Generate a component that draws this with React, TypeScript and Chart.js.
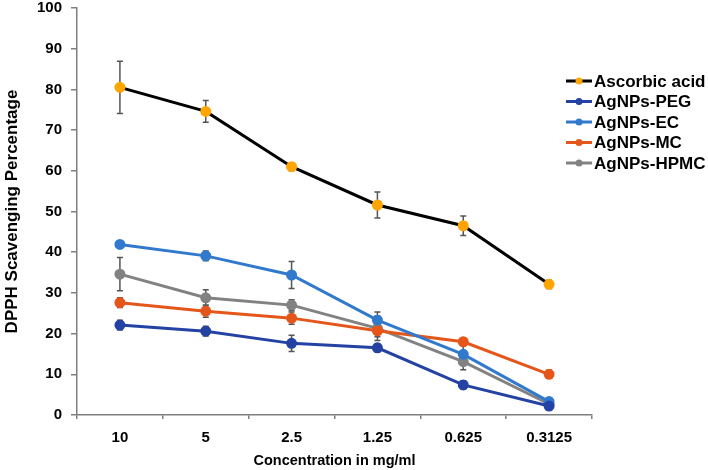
import React, { useEffect, useRef } from "react";
import { Chart, registerables } from "chart.js";

Chart.register(...registerables);

const categories = ["10", "5", "2.5", "1.25", "0.625", "0.3125"];
const seriesNames = ["Ascorbic acid", "AgNPs-PEG", "AgNPs-EC", "AgNPs-MC", "AgNPs-HPMC"];
const ascorbic = [80.5, 74.6, 61.0, 51.6, 46.5, 32.1];
const ascorbicErr = [6.4, 2.7, 1.0, 3.2, 2.4, 1.0];
const peg = [22.1, 20.6, 17.6, 16.5, 7.4, 2.2];
const pegErr = [1.2, 1.2, 2.0, 1.0, 1.0, 0.5];
const ec = [41.9, 39.1, 34.4, 23.3, 14.9, 3.3];
const ecErr = [0.8, 1.2, 3.3, 2.0, 2.5, 0.5];
const mc = [27.6, 25.5, 23.8, 20.7, 18.0, 10.0];
const mcErr = [1.2, 1.5, 1.5, 1.5, 0.5, 1.0];
const hpmc = [34.6, 28.8, 27.0, 21.3, 13.1, 2.7];
const hpmcErr = [4.1, 2.0, 1.3, 3.0, 2.0, 0.5];
const yTicks = [0, 10, 20, 30, 40, 50, 60, 70, 80, 90, 100];

const lineColors = ["#000000", "#2342A3", "#3179CC", "#E5561A", "#828282"];
const pointColors = ["#FFA500", "#2342A3", "#3179CC", "#E5561A", "#828282"];
const values = [ascorbic, peg, ec, mc, hpmc];
const errors = [ascorbicErr, pegErr, ecErr, mcErr, hpmcErr];

const FONT = "'Liberation Sans', Arial, sans-serif";

const errorBarPlugin = {
  id: "errorBars",
  beforeDatasetsDraw(chart: any) {
    const ctx = chart.ctx;
    const x = chart.scales.x;
    const y = chart.scales.y;
    ctx.save();
    ctx.strokeStyle = "#555555";
    ctx.lineWidth = 1.5;
    chart.data.datasets.forEach((ds: any) => {
      const errs = ds.errors as number[];
      ds.data.forEach((v: number, i: number) => {
        const px = x.getPixelForValue(i);
        const top = y.getPixelForValue(v + errs[i]);
        const bot = y.getPixelForValue(v - errs[i]);
        ctx.beginPath();
        ctx.moveTo(px, top);
        ctx.lineTo(px, bot);
        ctx.moveTo(px - 3, top);
        ctx.lineTo(px + 3, top);
        ctx.moveTo(px - 3, bot);
        ctx.lineTo(px + 3, bot);
        ctx.stroke();
      });
    });
    ctx.restore();
  },
};

const legendPlugin = {
  id: "customLegend",
  afterDraw(chart: any) {
    const ctx = chart.ctx;
    const right = chart.chartArea.right;
    const x0 = right - 26;
    const startY = 81;
    const step = 20.5;
    ctx.save();
    chart.data.datasets.forEach((ds: any, i: number) => {
      const cy = startY + i * step;
      ctx.strokeStyle = ds.borderColor;
      ctx.lineWidth = 3;
      ctx.beginPath();
      ctx.moveTo(x0, cy);
      ctx.lineTo(x0 + 26, cy);
      ctx.stroke();
      ctx.fillStyle = ds.pointBackgroundColor;
      ctx.beginPath();
      ctx.arc(x0 + 13, cy, 3.5, 0, Math.PI * 2);
      ctx.fill();
      ctx.fillStyle = "#000";
      ctx.font = `bold 17px ${FONT}`;
      ctx.textBaseline = "middle";
      ctx.textAlign = "left";
      ctx.fillText(ds.label, x0 + 28, cy + 1);
    });
    ctx.restore();
  },
};

export default function App() {
  const ref = useRef<HTMLCanvasElement>(null);
  useEffect(() => {
    document.body.style.margin = "0";
    const datasets = seriesNames.map((name, i) => ({
      label: name,
      data: values[i],
      errors: errors[i],
      borderColor: lineColors[i],
      backgroundColor: pointColors[i],
      pointBackgroundColor: pointColors[i],
      pointBorderColor: pointColors[i],
      pointRadius: 4,
      borderWidth: 3,
      tension: 0,
    }));
    const chart = new Chart(ref.current as HTMLCanvasElement, {
      type: "line",
      data: { labels: categories, datasets: datasets as any },
      options: {
        animation: false,
        responsive: false,
        layout: { padding: { left: 0, right: 116, top: 8, bottom: 0 } },
        plugins: { legend: { display: false }, tooltip: { enabled: false } },
        scales: {
          x: {
            offset: true,
            grid: {
              offset: true,
              drawOnChartArea: false,
              drawTicks: true,
              tickLength: 4,
              color: "#7f7f7f",
              lineWidth: 1.5,
            },
            border: { color: "#7f7f7f", width: 1.5 },
            ticks: {
              color: "#000",
              padding: 10,
              font: { family: FONT, weight: "bold", size: 15 },
            },
            title: {
              display: true,
              text: "Concentration in mg/ml",
              color: "#000",
              padding: { top: 0, bottom: 0 },
              font: { family: FONT, weight: "bold", size: 14.5 },
            },
            afterFit: (s: any) => {
              s.height = 55;
              s.paddingLeft = 0;
              s.paddingRight = 0;
            },
          },
          y: {
            min: 0,
            max: 100,
            afterBuildTicks: (s: any) => {
              s.ticks = yTicks.map((v) => ({ value: v }));
            },
            grid: {
              drawOnChartArea: false,
              drawTicks: true,
              tickLength: 6,
              color: "#7f7f7f",
              lineWidth: 1.5,
            },
            border: { color: "#7f7f7f", width: 1.5 },
            ticks: {
              color: "#000",
              padding: 9,
              font: { family: FONT, weight: "bold", size: 15 },
            },
            title: {
              display: true,
              text: "DPPH Scavenging Percentage",
              color: "#000",
              padding: { top: 2, bottom: 0 },
              font: { family: FONT, weight: "bold", size: 17 },
            },
            afterFit: (s: any) => {
              s.width = 77;
              s.paddingTop = 0;
              s.paddingBottom = 0;
            },
          },
        },
      },
      plugins: [errorBarPlugin, legendPlugin],
    });
    return () => chart.destroy();
  }, []);
  return <canvas ref={ref} width={708} height={470} style={{ display: "block" }} />;
}
